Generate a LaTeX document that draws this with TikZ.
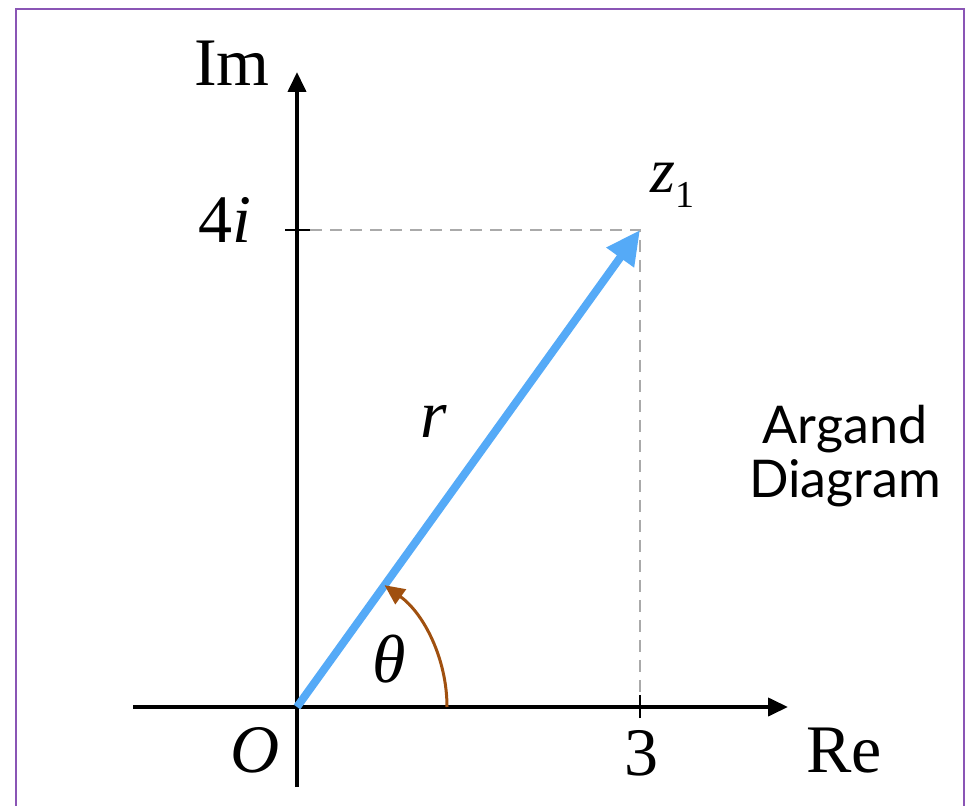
\documentclass[tikz,border=0pt]{standalone}
\usepackage{fontspec}
\setmainfont{Liberation Serif}
\newfontfamily\notefont{Lato}
\usepackage{tikz}
\usetikzlibrary{arrows.meta,positioning}

\definecolor{vecblue}{HTML}{55AAF7}
\definecolor{arcbrown}{HTML}{A0500F}
\definecolor{guidegray}{HTML}{AAAAAA}
\definecolor{framepurple}{HTML}{8A55B5}

\begin{document}
\begin{tikzpicture}[
    x=0.5pt, y=0.5pt,
    axis/.style={line width=2pt, -{Triangle[length=10pt,width=9pt]}},
    tickmark/.style={line width=1pt},
    guide/.style={guidegray, line width=1pt, dash pattern=on 6pt off 4pt},
    vector/.style={vecblue, line width=4pt, -{Triangle[length=17pt,width=16pt]}},
    anglearc/.style={arcbrown, line width=1.5pt, -{Triangle[length=10pt,width=9pt]}},
    lbl/.style={anchor=base, inner sep=0pt, font=\fontsize{34}{40}\selectfont},
    note/.style={anchor=base, inner sep=0pt, align=center, font=\notefont\fontsize{26}{27}\selectfont}
]
\useasboundingbox (0,0) rectangle (970,805);
\clip (0,0) rectangle (970,805);

% Frame
\draw[framepurple, line width=1.2pt] (16,-20) rectangle (964,796);

% Key points
\coordinate (O) at (297,98);
\coordinate (z1) at (640,575);
\coordinate (restart) at (133,98);
\coordinate (reend) at (788,98);
\coordinate (imstart) at (297,18);
\coordinate (imend) at (297,733);
\coordinate (ticki) at (310,575);
\coordinate (tickthree) at (640,110);
\coordinate (thetastart) at (447,98);

% Axes
\draw[axis] (restart) -- (reend);
\draw[axis] (imstart) -- (imend);

% Ticks
\draw[tickmark] (285,575) -- (ticki);
\draw[tickmark] (640,87) -- (tickthree);

% Guides to z1
\draw[guide] (ticki) -- (z1) -- (tickthree);

% Vector and angle
\draw[vector] (O) -- (z1);
\draw[anglearc] (thetastart) arc[start angle=0, end angle=54.3, radius=150];

% Labels
\node[lbl] (imlabel) at (232,719) {Im};
\node[lbl] (relabel) at (844,33) {Re};
\node[lbl] (fourilabel) at (225,562) {4\textit{i}};
\node[lbl] (threelabel) at (641,30) {3};
\node[lbl] (originlabel) at (255,33) {\textit{O}};
\node[lbl] (rlabel) at (434,368) {\textit{r}};
\node[lbl] (thetalabel) at (389,123) {\textit{θ}};
\node[lbl, anchor=base west, font=\fontsize{32}{38}\selectfont] (zlabel) at (650,612) {\textit{z}\raisebox{-7.5pt}{\fontsize{19}{22}\selectfont 1}};
\node[note] (argandnote) at (845,308) {Argand\\Diagram};

\end{tikzpicture}
\end{document}
